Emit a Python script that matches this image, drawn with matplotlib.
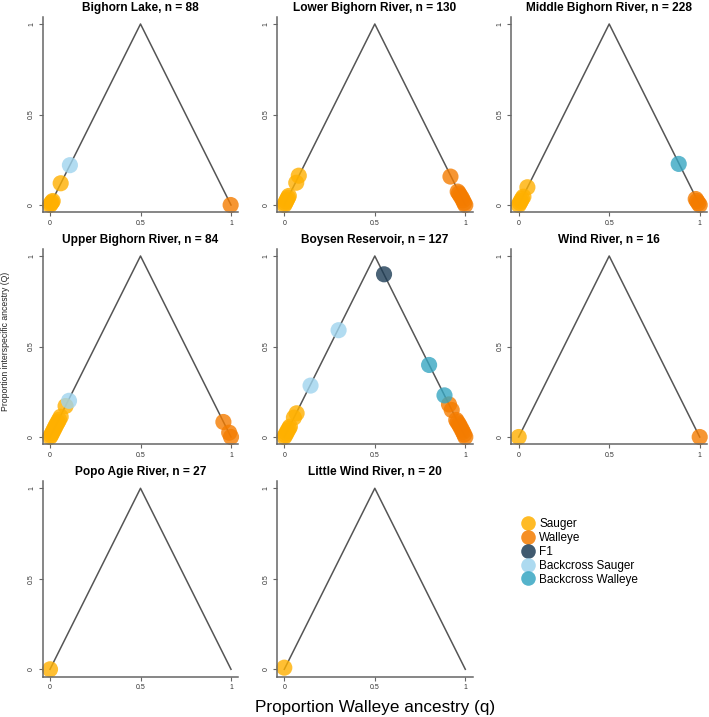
import matplotlib
matplotlib.use("Agg")
import matplotlib.pyplot as plt
from matplotlib.lines import Line2D

plt.rcParams["font.family"] = ["Liberation Sans", "DejaVu Sans"]

groups = ["Sauger", "Walleye", "F1", "Backcross Sauger", "Backcross Walleye"]
group_colors = ["#FFB000", "#F47C00", "#1E3D56", "#9FD4EE", "#37A6C2"]

sites = ["Bighorn Lake", "Lower Bighorn River", "Middle Bighorn River",
         "Upper Bighorn River", "Boysen Reservoir", "Wind River",
         "Popo Agie River", "Little Wind River"]
site_n = [88, 130, 228, 84, 127, 16, 27, 20]

# per-site points: proportion walleye (q), interspecific ancestry (Q), group
bighorn_lake_q = [0.0, 0.005, 0.01, 0.015, 0.059, 0.998, 0.11]
bighorn_lake_Q = [0.0, 0.008, 0.015, 0.022, 0.12, 0.0, 0.22]
bighorn_lake_g = ["Sauger", "Sauger", "Sauger", "Sauger", "Sauger", "Walleye", "Backcross Sauger"]

lower_bighorn_q = [0.0, 0.005, 0.01, 0.015, 0.02, 0.025, 0.066, 0.08,
                   0.918, 0.958, 0.965, 0.972, 0.98, 0.987, 0.994, 1.0]
lower_bighorn_Q = [0.0, 0.01, 0.02, 0.03, 0.04, 0.05, 0.123, 0.162,
                   0.157, 0.074, 0.064, 0.052, 0.04, 0.026, 0.012, 0.0]
lower_bighorn_g = ["Sauger"] * 8 + ["Walleye"] * 8

middle_bighorn_q = [0.0, 0.006, 0.012, 0.018, 0.026, 0.048, 0.978, 0.985, 0.993, 1.0, 0.884]
middle_bighorn_Q = [0.0, 0.012, 0.022, 0.034, 0.046, 0.098, 0.033, 0.022, 0.01, 0.0, 0.227]
middle_bighorn_g = ["Sauger"] * 6 + ["Walleye"] * 4 + ["Backcross Walleye"]

upper_bighorn_q = [0.0, 0.006, 0.012, 0.018, 0.024, 0.03, 0.036, 0.043, 0.05, 0.059, 0.086,
                   0.958, 0.99, 1.0, 0.105]
upper_bighorn_Q = [0.0, 0.01, 0.022, 0.034, 0.046, 0.058, 0.07, 0.082, 0.095, 0.112, 0.171,
                   0.083, 0.024, 0.0, 0.2]
upper_bighorn_g = ["Sauger"] * 11 + ["Walleye"] * 3 + ["Backcross Sauger"]

boysen_q = [0.0, 0.006, 0.012, 0.018, 0.025, 0.031, 0.053, 0.068,
            0.91, 0.925, 0.95, 0.957, 0.965, 0.972, 0.98, 0.987, 0.994, 1.0,
            0.145, 0.30, 0.551, 0.80, 0.885]
boysen_Q = [0.0, 0.011, 0.022, 0.034, 0.046, 0.057, 0.107, 0.131,
            0.18, 0.149, 0.094, 0.082, 0.07, 0.057, 0.042, 0.028, 0.014, 0.0,
            0.284, 0.59, 0.899, 0.398, 0.23]
boysen_g = (["Sauger"] * 8 + ["Walleye"] * 10
            + ["Backcross Sauger", "Backcross Sauger", "F1", "Backcross Walleye", "Backcross Walleye"])

wind_q = [0.0, 1.0]
wind_Q = [0.0, 0.0]
wind_g = ["Sauger", "Walleye"]

popo_agie_q = [0.0]
popo_agie_Q = [0.0]
popo_agie_g = ["Sauger"]

little_wind_q = [0.0]
little_wind_Q = [0.009]
little_wind_g = ["Sauger"]

site_q = [bighorn_lake_q, lower_bighorn_q, middle_bighorn_q, upper_bighorn_q,
          boysen_q, wind_q, popo_agie_q, little_wind_q]
site_Q = [bighorn_lake_Q, lower_bighorn_Q, middle_bighorn_Q, upper_bighorn_Q,
          boysen_Q, wind_Q, popo_agie_Q, little_wind_Q]
site_g = [bighorn_lake_g, lower_bighorn_g, middle_bighorn_g, upper_bighorn_g,
          boysen_g, wind_g, popo_agie_g, little_wind_g]

triangle_q = [0, 0.5, 1]
triangle_Q = [0, 1, 0]

W, H = 709, 717
fig = plt.figure(figsize=(W / 100, H / 100), dpi=100)

col_x0 = [50, 284.3, 518.7]   # pixel position of q = 0
row_y1 = [24, 256, 488.3]     # pixel position of Q = 1
span = 181.0
ax_size = span * 1.08
color_of = dict(zip(groups, group_colors))

for i, site in enumerate(sites):
    r, c = divmod(i, 3)
    left = (col_x0[c] - 0.04 * span) / W
    top = row_y1[r] - 0.04 * span
    bottom = 1 - (top + ax_size) / H
    ax = fig.add_axes([left, bottom, ax_size / W, ax_size / H])
    ax.set_xlim(-0.04, 1.04)
    ax.set_ylim(-0.04, 1.04)
    ax.plot(triangle_q, triangle_Q, color="#555555", lw=1.1, zorder=1)

    for g in groups:
        xs = [q for q, gg in zip(site_q[i], site_g[i]) if gg == g]
        ys = [Q for Q, gg in zip(site_Q[i], site_g[i]) if gg == g]
        if xs:
            ax.scatter(xs, ys, s=135, color=color_of[g], alpha=0.8,
                       edgecolors="none", zorder=2, clip_on=False)

    for side in ["top", "right"]:
        ax.spines[side].set_visible(False)
    for side in ["left", "bottom"]:
        ax.spines[side].set_color("#666666")
        ax.spines[side].set_linewidth(1.1)
    ax.set_xticks([0, 0.5, 1])
    ax.set_xticklabels(["0", "0.5", "1"])
    ax.set_yticks([0, 0.5, 1])
    ax.set_yticklabels(["0", "0.5", "1"], rotation=90, va="center")
    ax.tick_params(length=3, width=0.8, color="#666666", labelsize=5,
                   labelcolor="#333333", pad=2.5)
    ax.set_title(f"{site}, n = {site_n[i]}", fontsize=8.6, fontweight="bold", pad=4.2)

handles = [Line2D([], [], marker="o", ls="none", markersize=10.5, color=col,
                  markeredgewidth=0, alpha=0.85) for col in group_colors]
fig.legend(handles, groups, loc="upper left", bbox_to_anchor=(522 / W, 1 - 518 / H),
           frameon=False, fontsize=8.5, handlelength=1.0, handletextpad=0.45,
           labelspacing=0.16, borderpad=0, borderaxespad=0)

fig.text(6 / W, 1 - 341 / H, "Proportion interspecific ancestry (Q)", rotation=90,
         ha="center", va="center", fontsize=6.2, color="#222222")
fig.text(375 / W, 1 - 712 / H, "Proportion Walleye ancestry (q)",
         ha="center", va="baseline", fontsize=12.3)

fig.savefig("out.png", dpi=100)
